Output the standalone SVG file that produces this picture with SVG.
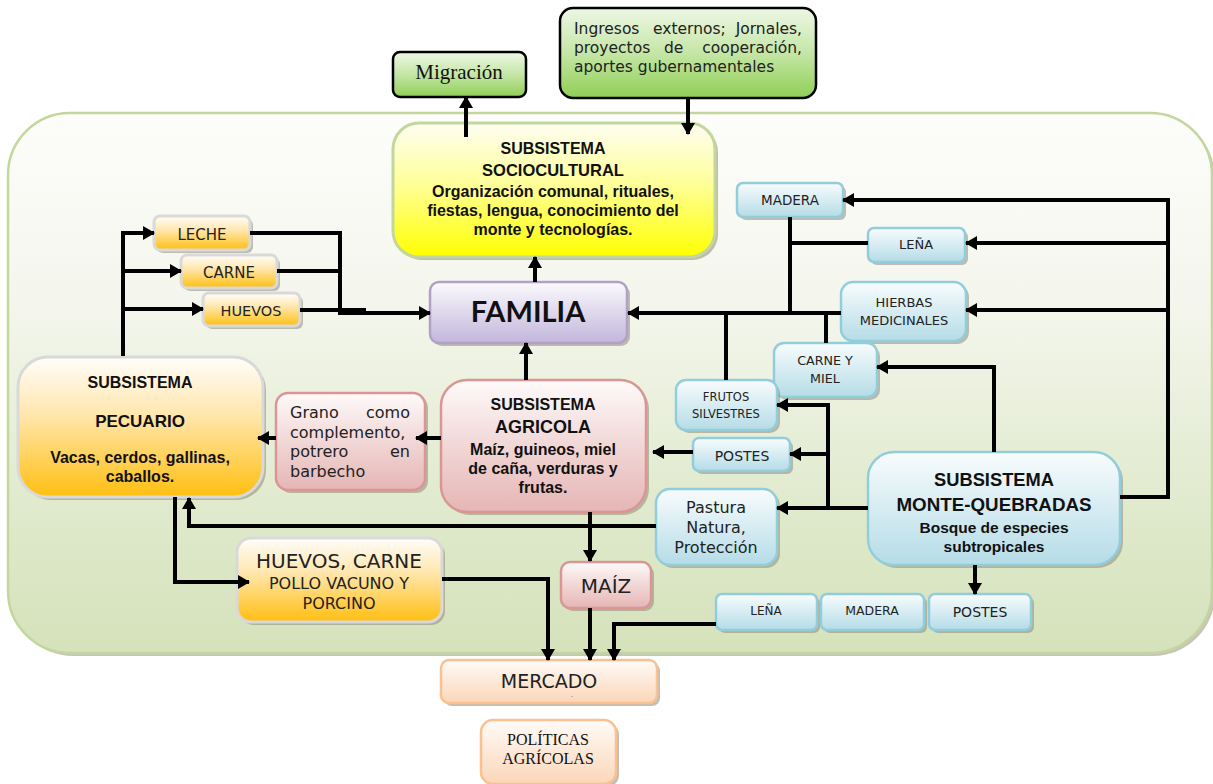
<svg xmlns="http://www.w3.org/2000/svg" width="1213" height="784" viewBox="0 0 1213 784">
  <defs>
    <linearGradient id="gBg" x1="0" y1="0" x2="0" y2="1">
      <stop offset="0" stop-color="#fdfdfb"/>
      <stop offset="0.35" stop-color="#f4f6ed"/>
      <stop offset="0.75" stop-color="#dfe9cb"/>
      <stop offset="1" stop-color="#d5e2bb"/>
    </linearGradient>
    <linearGradient id="gGreen" x1="0" y1="0" x2="0" y2="1">
      <stop offset="0" stop-color="#eef7e6"/>
      <stop offset="0.5" stop-color="#c5e6a6"/>
      <stop offset="1" stop-color="#8fcf55"/>
    </linearGradient>
    <linearGradient id="gYellow" x1="0" y1="0" x2="0" y2="1">
      <stop offset="0" stop-color="#fdfdf2"/>
      <stop offset="0.45" stop-color="#ffff9a"/>
      <stop offset="1" stop-color="#ffff00"/>
    </linearGradient>
    <linearGradient id="gOrange" x1="0" y1="0" x2="0" y2="1">
      <stop offset="0" stop-color="#fffefb"/>
      <stop offset="0.4" stop-color="#ffe7b0"/>
      <stop offset="1" stop-color="#ffbf10"/>
    </linearGradient>
    <linearGradient id="gPink" x1="0" y1="0" x2="0" y2="1">
      <stop offset="0" stop-color="#fefafa"/>
      <stop offset="0.5" stop-color="#f1d7d6"/>
      <stop offset="1" stop-color="#e5b6b5"/>
    </linearGradient>
    <linearGradient id="gPurple" x1="0" y1="0" x2="0" y2="1">
      <stop offset="0" stop-color="#fbfafd"/>
      <stop offset="1" stop-color="#c2b6dc"/>
    </linearGradient>
    <linearGradient id="gBlue" x1="0" y1="0" x2="0" y2="1">
      <stop offset="0" stop-color="#f8fcfd"/>
      <stop offset="1" stop-color="#b5dce7"/>
    </linearGradient>
    <linearGradient id="gPeach" x1="0" y1="0" x2="0" y2="1">
      <stop offset="0" stop-color="#fffbf8"/>
      <stop offset="1" stop-color="#fbd6b8"/>
    </linearGradient>
    <marker id="ah" markerWidth="12" markerHeight="14" refX="11" refY="7" orient="auto" markerUnits="userSpaceOnUse">
      <path d="M0,0 L12,7 L0,14 z" fill="#000"/>
    </marker>
    <style>
      .sh { fill:#8f8a7a; opacity:0.55; }
      .green { fill:url(#gGreen); stroke:#000; stroke-width:2.5; }
      .yellow { fill:url(#gYellow); stroke:#c3d69b; stroke-width:3; }
      .orange { fill:url(#gOrange); stroke:#d9d9d9; stroke-width:3; }
      .pink { fill:url(#gPink); stroke:#d99694; stroke-width:2.5; }
      .purple { fill:url(#gPurple); stroke:#b2a1c7; stroke-width:2.5; }
      .blue { fill:url(#gBlue); stroke:#92cddc; stroke-width:2.5; }
      .peach { fill:url(#gPeach); stroke:#fac08f; stroke-width:2.5; }
      .b { font-family:"Liberation Sans", Arial, sans-serif; font-weight:bold; fill:#111; text-anchor:middle; }
      .f { font-family:Lato, "Liberation Sans", sans-serif; font-weight:bold; fill:#111; text-anchor:middle; }
      .l { font-family:"DejaVu Sans", "Liberation Sans", sans-serif; fill:#222; text-anchor:middle; }
      .s { font-family:"Liberation Serif", serif; fill:#111; text-anchor:middle; }
      .ln { fill:none; stroke:#000; stroke-width:4; }
      .arr { marker-end:url(#ah); }
    </style>
  </defs>

  <!-- outer system boundary -->
  <g id="system">
    <rect x="11" y="116" width="1204" height="540" rx="62" fill="#8f8a7a" opacity="0.5"/>
    <rect x="8" y="113" width="1204" height="540" rx="62" fill="url(#gBg)" stroke="#c3d69b" stroke-width="2.5"/>
  </g>

  <g id="migracion">
    <rect class="green" x="393" y="52" width="133" height="45" rx="7"/>
    <text class="s" x="459" y="79" font-size="21">Migración</text>
  </g>

  <g id="ingresos">
    <rect class="green" x="560" y="8" width="256" height="90" rx="13"/>
    <g class="l" font-size="15.5" style="text-anchor:start">
      <text x="574" y="34">Ingresos</text>
      <text x="653" y="34">externos;</text>
      <text x="802" y="34" style="text-anchor:end">Jornales,</text>
      <text x="574" y="53">proyectos</text>
      <text x="664" y="53">de</text>
      <text x="802" y="53" style="text-anchor:end">cooperación,</text>
      <text x="574" y="72">aportes gubernamentales</text>
    </g>
  </g>

  <g id="sociocultural">
    <rect class="sh" x="396" y="126" width="322" height="134" rx="26"/>
    <rect class="yellow" x="393" y="123" width="322" height="134" rx="26"/>
    <text class="b" x="553" y="154" font-size="16">SUBSISTEMA</text>
    <text class="b" x="553" y="176" font-size="16.5">SOCIOCULTURAL</text>
    <text class="b" x="553" y="197" font-size="16">Organización comunal, rituales,</text>
    <text class="b" x="553" y="216" font-size="16">fiestas, lengua, conocimiento del</text>
    <text class="b" x="553" y="235" font-size="16">monte y tecnologías.</text>
  </g>

  <g id="familia">
    <rect class="sh" x="433" y="285" width="197" height="61" rx="9"/>
    <rect class="purple" x="430" y="282" width="197" height="61" rx="9"/>
    <text class="f" x="528" y="322" font-size="29">FAMILIA</text>
  </g>

  <g id="leche">
    <rect class="sh" x="157" y="219" width="96" height="34" rx="6"/>
    <rect class="orange" x="154" y="216" width="96" height="34" rx="6"/>
    <text class="l" x="202" y="240" font-size="15">LECHE</text>
  </g>
  <g id="carne">
    <rect class="sh" x="184" y="258" width="96" height="33" rx="6"/>
    <rect class="orange" x="181" y="255" width="96" height="33" rx="6"/>
    <text class="l" x="229" y="278" font-size="15">CARNE</text>
  </g>
  <g id="huevos">
    <rect class="sh" x="206" y="296" width="97" height="33" rx="6"/>
    <rect class="orange" x="203" y="293" width="97" height="33" rx="6"/>
    <text class="l" x="251" y="316" font-size="14.5">HUEVOS</text>
  </g>

  <g id="pecuario">
    <rect class="sh" x="21" y="360" width="245" height="140" rx="30"/>
    <rect class="orange" x="18" y="357" width="245" height="140" rx="30"/>
    <text class="b" x="140" y="388" font-size="16">SUBSISTEMA</text>
    <text class="b" x="140" y="427" font-size="17">PECUARIO</text>
    <text class="b" x="140" y="463" font-size="16">Vacas, cerdos, gallinas,</text>
    <text class="b" x="140" y="482" font-size="16">caballos.</text>
  </g>

  <g id="grano">
    <rect class="sh" x="279" y="396" width="149" height="97" rx="12"/>
    <rect class="pink" x="276" y="393" width="149" height="97" rx="12"/>
    <g class="l" font-size="16" style="text-anchor:start">
      <text x="290" y="418">Grano</text>
      <text x="410" y="418" style="text-anchor:end">como</text>
      <text x="290" y="438">complemento,</text>
      <text x="290" y="457">potrero</text>
      <text x="410" y="457" style="text-anchor:end">en</text>
      <text x="290" y="477">barbecho</text>
    </g>
  </g>

  <g id="agricola">
    <rect class="sh" x="444" y="383" width="205" height="132" rx="26"/>
    <rect class="pink" x="441" y="380" width="205" height="132" rx="26"/>
    <text class="b" x="543" y="410" font-size="16">SUBSISTEMA</text>
    <text class="b" x="543" y="433" font-size="18">AGRICOLA</text>
    <text class="b" x="543" y="455" font-size="16">Maíz, guineos, miel</text>
    <text class="b" x="543" y="474" font-size="16">de caña, verduras y</text>
    <text class="b" x="543" y="493" font-size="16">frutas.</text>
  </g>

  <g id="madera-top">
    <rect class="sh" x="740" y="186" width="106" height="34" rx="6"/>
    <rect class="blue" x="737" y="183" width="106" height="34" rx="6"/>
    <text class="l" x="790" y="205" font-size="13.5">MADERA</text>
  </g>
  <g id="lena-top">
    <rect class="sh" x="871" y="231" width="97" height="34" rx="6"/>
    <rect class="blue" x="868" y="228" width="97" height="34" rx="6"/>
    <text class="l" x="916" y="249" font-size="13">LEÑA</text>
  </g>
  <g id="hierbas">
    <rect class="sh" x="844" y="285" width="125" height="59" rx="12"/>
    <rect class="blue" x="841" y="282" width="125" height="59" rx="12"/>
    <text class="l" x="904" y="307" font-size="13">HIERBAS</text>
    <text class="l" x="904" y="325" font-size="13">MEDICINALES</text>
  </g>
  <g id="carne-miel">
    <rect class="sh" x="777" y="346" width="103" height="54" rx="10"/>
    <rect class="blue" x="774" y="343" width="103" height="54" rx="10"/>
    <text class="l" x="825" y="365" font-size="12.7">CARNE Y</text>
    <text class="l" x="825" y="383" font-size="12.7">MIEL</text>
  </g>
  <g id="frutos">
    <rect class="sh" x="679" y="383" width="101" height="50" rx="10"/>
    <rect class="blue" x="676" y="380" width="101" height="50" rx="10"/>
    <text class="l" x="726" y="401" font-size="11.5">FRUTOS</text>
    <text class="l" x="726" y="418" font-size="11.5">SILVESTRES</text>
  </g>
  <g id="postes-mid">
    <rect class="sh" x="696" y="441" width="97" height="33" rx="6"/>
    <rect class="blue" x="693" y="438" width="97" height="33" rx="6"/>
    <text class="l" x="742" y="461" font-size="14">POSTES</text>
  </g>
  <g id="pastura">
    <rect class="sh" x="659" y="492" width="121" height="76" rx="14"/>
    <rect class="blue" x="656" y="489" width="121" height="76" rx="14"/>
    <text class="l" x="716" y="513" font-size="16">Pastura</text>
    <text class="l" x="716" y="533" font-size="16">Natura,</text>
    <text class="l" x="716" y="553" font-size="16">Protección</text>
  </g>

  <g id="monte">
    <rect class="sh" x="871" y="455" width="252" height="113" rx="26"/>
    <rect class="blue" x="868" y="452" width="252" height="113" rx="26"/>
    <text class="b" x="994" y="486" font-size="18.3">SUBSISTEMA</text>
    <text class="b" x="994" y="511" font-size="18.8">MONTE-QUEBRADAS</text>
    <text class="b" x="994" y="533" font-size="15.5">Bosque de especies</text>
    <text class="b" x="994" y="552" font-size="15.5">subtropicales</text>
  </g>

  <g id="lena-bottom">
    <rect class="sh" x="719" y="597" width="101" height="36" rx="6"/>
    <rect class="blue" x="716" y="594" width="101" height="36" rx="6"/>
    <text class="l" x="766" y="615" font-size="12">LEÑA</text>
  </g>
  <g id="madera-bottom">
    <rect class="sh" x="824" y="597" width="103" height="36" rx="6"/>
    <rect class="blue" x="821" y="594" width="103" height="36" rx="6"/>
    <text class="l" x="872" y="615" font-size="12.5">MADERA</text>
  </g>
  <g id="postes-bottom">
    <rect class="sh" x="932" y="597" width="102" height="36" rx="6"/>
    <rect class="blue" x="929" y="594" width="102" height="36" rx="6"/>
    <text class="l" x="980" y="617" font-size="14">POSTES</text>
  </g>

  <g id="maiz">
    <rect class="sh" x="564" y="565" width="90" height="46" rx="9"/>
    <rect class="pink" x="561" y="562" width="90" height="46" rx="9"/>
    <text class="l" x="606" y="593" font-size="20">MAÍZ</text>
  </g>

  <g id="huevos-carne">
    <rect class="sh" x="240" y="541" width="205" height="84" rx="14"/>
    <rect class="orange" x="237" y="538" width="205" height="84" rx="14"/>
    <text class="l" x="339" y="568" font-size="20">HUEVOS, CARNE</text>
    <text class="l" x="339" y="589" font-size="16">POLLO VACUNO Y</text>
    <text class="l" x="339" y="609" font-size="16">PORCINO</text>
  </g>

  <g id="mercado">
    <rect class="sh" x="444" y="663" width="216" height="43" rx="8"/>
    <rect class="peach" x="441" y="660" width="216" height="43" rx="8"/>
    <text class="l" x="549" y="688" font-size="19">MERCADO</text>
    <text class="l" x="572" y="697" font-size="6">.</text>
  </g>

  <g id="politicas">
    <rect class="sh" x="484" y="723" width="135" height="64" rx="12"/>
    <rect class="peach" x="481" y="720" width="135" height="64" rx="12"/>
    <text class="s" x="548" y="745" font-size="16">POLÍTICAS</text>
    <text class="s" x="548" y="764" font-size="16">AGRÍCOLAS</text>
  </g>

  <!-- connectors, drawn over the boxes so arrowheads stay visible -->
  <g id="connectors">
    <path class="ln arr" d="M466,137 V97"/>
    <path class="ln arr" d="M688,98 V134"/>
    <path class="ln arr" d="M535,282 V257"/>
    <path class="ln arr" d="M526,380 V343"/>
    <!-- pecuario products -->
    <path class="ln" d="M123,356 V233"/>
    <path class="ln arr" d="M121,233 H154"/>
    <path class="ln arr" d="M123,271 H181"/>
    <path class="ln arr" d="M123,309 H203"/>
    <path class="ln arr" d="M250,233 H340 V313 H430"/>
    <path class="ln" d="M277,271 H340"/>
    <path class="ln" d="M300,310 H366"/>
    <!-- agricola / pecuario -->
    <path class="ln arr" d="M441,438 H416"/>
    <path class="ln arr" d="M276,438 H258"/>
    <path class="ln arr" d="M693,452 H653"/>
    <path class="ln arr" d="M656,526 H189 V498"/>
    <path class="ln arr" d="M175,497 V582 H249"/>
    <!-- monte products to familia -->
    <path class="ln arr" d="M841,313 H628"/>
    <path class="ln" d="M790,217 V313"/>
    <path class="ln" d="M868,243 H790"/>
    <path class="ln" d="M726,380 V313"/>
    <path class="ln" d="M826,343 V313"/>
    <!-- monte outputs -->
    <path class="ln arr" d="M1120,497 H1168 V200 H843"/>
    <path class="ln arr" d="M1168,243 H966"/>
    <path class="ln arr" d="M1168,310 H966"/>
    <path class="ln arr" d="M994,452 V367 H877"/>
    <path class="ln arr" d="M868,508 H777"/>
    <path class="ln arr" d="M828,508 V405 H777"/>
    <path class="ln arr" d="M828,454 H790"/>
    <path class="ln arr" d="M975,565 V594"/>
    <!-- market -->
    <path class="ln arr" d="M590,512 V561"/>
    <path class="ln arr" d="M442,579 H548 V660"/>
    <path class="ln arr" d="M590,608 V660"/>
    <path class="ln arr" d="M716,624 H614 V660"/>
  </g>
</svg>
